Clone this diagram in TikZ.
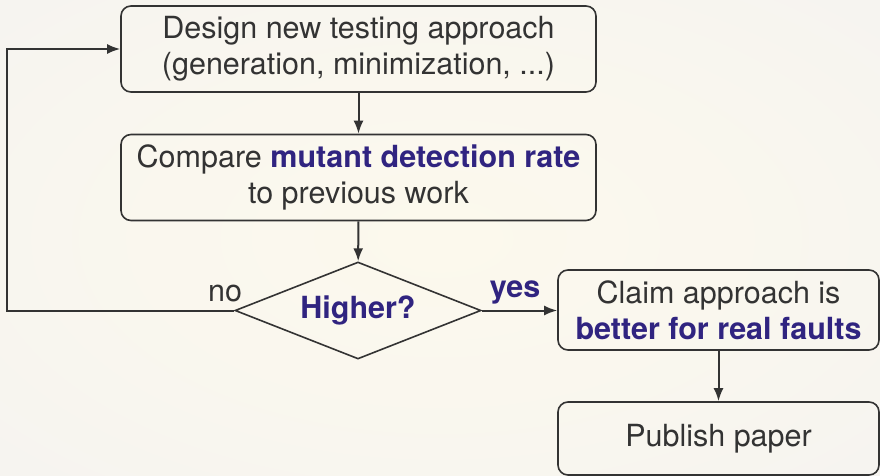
\documentclass[tikz,border=0pt]{standalone}
\usepackage{fontspec}
\setmainfont{TeX Gyre Heros}
\usetikzlibrary{shapes.geometric,arrows.meta}
\definecolor{txt}{RGB}{51,51,51}
\definecolor{hl}{RGB}{48,36,128}
\definecolor{bgin}{RGB}{252,249,237}
\definecolor{bgout}{RGB}{238,237,244}
\pgfdeclareradialshading{bgshade}{\pgfpoint{0bp}{0bp}}{color(0bp)=(bgin); color(20bp)=(bgin!80!bgout); color(72bp)=(bgout)}
\begin{document}
\begin{tikzpicture}[x=1pt,y=-1pt,
  every node/.style={font=\fontsize{30.5}{36}\selectfont, text=txt},
  box/.style={draw=txt, line width=1.6pt, rounded corners=10pt, align=center, inner sep=0pt},
  dia/.style={draw=txt, line width=1.6pt, diamond, aspect=2.54, inner sep=0pt, minimum width=246pt, minimum height=97pt},
  arr/.style={draw=txt, line width=2pt, -{Latex[length=13pt,width=10pt]}},
  lbl/.style={anchor=base, inner sep=0pt}]
\useasboundingbox (0,0) rectangle (880,476);
\shade[shading=bgshade] (0,0) rectangle (880,476);
\node[box, minimum width=475pt, minimum height=86pt] (d1) at (358.5,49) {Design new testing approach\\(generation, minimization, ...)};
\node[box, minimum width=475pt, minimum height=86pt] (c2) at (358.5,177.5) {Compare \textbf{\color{hl}mutant detection rate}\\to previous work};
\node[dia] (h) at (358,310.5) {\textbf{\color{hl}Higher?}};
\node[box, minimum width=321pt, minimum height=80pt] (b3) at (718.5,310) {Claim approach is\\\textbf{\color{hl}better for real faults}};
\node[box, minimum width=321pt, minimum height=73pt] (p4) at (718.5,438.5) {Publish paper};
\coordinate (lp) at (7,310.5);
\draw[arr] (d1) -- (c2);
\draw[arr] (c2) -- (h);
\draw[arr] (h.east) -- (h.east -| b3.west);
\draw[arr] (b3) -- (p4);
\draw[arr] (h.west) -- (lp) |- (d1.west);
\node[lbl] (no) at (225,301) {no};
\node[lbl] (yes) at (515,297) {\textbf{\color{hl}yes}};
\end{tikzpicture}
\end{document}
